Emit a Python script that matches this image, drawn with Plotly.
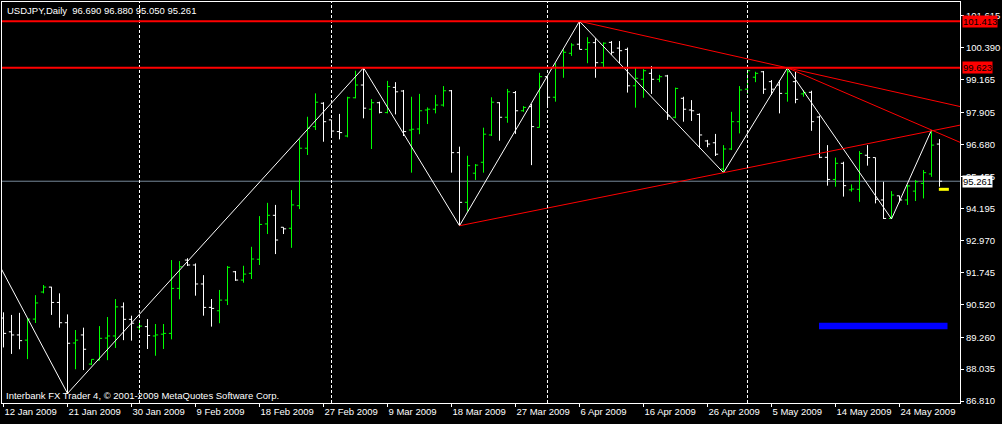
import pandas as pd
import plotly.graph_objects as go

# ---------------- data ----------------
title_text = "USDJPY,Daily  96.690 96.880 95.050 95.261"
footer_text = "Interbank FX Trader 4, \u00a9 2001-2009 MetaQuotes Software Corp."

# trading days (Sunday bars included, Saturday and Good Friday absent)
all_days = pd.date_range("2009-01-12", "2009-05-29", freq="D")
dates = [d for d in all_days if d.weekday() != 5 and d != pd.Timestamp("2009-04-10")]

opens = [90.00, 89.47, 89.35, 89.15, 89.96, 91.00, 91.19, 90.60, 89.82, 89.04,
         89.35, 88.23, 88.38, 89.23, 89.31, 90.43, 89.95, 89.65, 89.67, 89.31,
         89.38, 89.41, 91.14, 92.23, 92.04, 91.31, 90.41, 90.28, 90.69, 91.78,
         91.46, 91.72, 92.26, 93.62, 93.95, 93.49, 93.45, 94.32, 96.53, 97.36,
         98.26, 97.62, 97.17, 97.00, 98.47, 98.96, 98.03, 98.28, 97.90, 98.87,
         98.73, 97.23, 97.27, 98.00, 98.03, 98.19, 98.74, 96.36, 94.45, 95.57,
         95.99, 97.04, 98.28, 97.72, 98.67, 97.97, 98.13, 97.33, 99.28, 98.49,
         99.64, 100.18, 100.53, 100.33, 100.59, 99.82, 100.60, 100.38, 100.33, 98.93,
         99.18, 99.41, 99.18, 99.31, 97.72, 98.45, 98.00, 97.83, 96.81, 96.74,
         95.73, 96.50, 97.55, 98.80, 99.26, 99.47, 99.09, 98.96, 98.64, 99.09,
         98.62, 98.68, 97.73, 96.18, 95.33, 95.95, 94.93, 94.95, 96.26, 96.17,
         94.54, 93.83, 94.70, 94.54, 94.88, 95.18, 95.54, 96.690]
highs = [90.22, 90.12, 90.20, 89.99, 90.88, 91.27, 91.20, 90.95, 90.14, 89.54,
         89.63, 88.41, 89.69, 90.04, 90.73, 90.60, 90.09, 89.81, 89.96, 89.77,
         89.77, 92.23, 92.19, 92.30, 92.10, 91.65, 90.73, 91.08, 92.00, 91.81,
         92.01, 92.74, 93.92, 94.43, 94.35, 93.49, 94.92, 96.88, 97.74, 98.64,
         98.30, 97.62, 97.85, 98.51, 99.51, 99.623, 98.42, 98.32, 99.12, 99.07,
         98.77, 98.51, 98.62, 98.10, 98.58, 98.92, 98.77, 96.59, 96.24, 95.92,
         97.32, 98.49, 98.30, 98.81, 98.73, 98.15, 98.23, 99.43, 99.35, 99.80,
         100.33, 100.57, 101.413, 100.80, 100.76, 100.60, 100.65, 100.65, 100.40, 99.63,
         99.57, 99.69, 99.35, 99.35, 98.86, 98.51, 98.38, 97.87, 96.85, 97.08,
         96.65, 97.93, 98.92, 99.54, 99.47, 99.50, 99.15, 99.15, 99.62, 99.47,
         98.77, 98.74, 97.78, 96.65, 96.17, 96.01, 95.14, 96.42, 96.65, 96.17,
         95.24, 94.88, 94.70, 95.12, 95.31, 95.69, 97.23, 96.880]
lows = [88.87, 88.62, 88.80, 88.42, 89.81, 90.95, 90.12, 89.63, 87.10, 88.03,
        88.00, 88.19, 88.38, 88.38, 88.85, 89.15, 89.13, 89.54, 88.81, 88.55,
        88.81, 89.18, 90.72, 92.00, 90.86, 90.09, 89.67, 89.80, 90.50, 91.43,
        91.36, 91.50, 92.04, 93.23, 92.46, 93.23, 92.70, 94.19, 96.27, 97.23,
        96.78, 97.00, 96.87, 96.95, 98.45, 97.68, 96.50, 97.87, 97.87, 97.83,
        97.00, 95.59, 97.07, 97.46, 97.87, 98.13, 95.59, 93.55, 94.09, 95.31,
        95.59, 97.00, 96.82, 97.51, 97.08, 97.93, 95.88, 97.33, 98.13, 98.32,
        99.24, 100.08, 100.33, 99.80, 99.24, 99.64, 100.12, 99.80, 98.67, 98.09,
        98.47, 98.62, 99.07, 97.62, 97.68, 97.55, 97.58, 96.53, 96.57, 96.23,
        95.59, 96.46, 97.10, 98.62, 99.07, 98.62, 98.58, 97.87, 98.32, 98.26,
        98.51, 97.20, 96.15, 95.09, 95.05, 94.67, 94.86, 94.47, 95.86, 94.41,
        93.81, 93.81, 94.45, 94.35, 94.50, 94.60, 95.43, 95.050]
closes = [89.41, 89.35, 89.13, 89.96, 90.58, 91.19, 90.60, 89.82, 89.03, 89.15,
          88.80, 88.41, 89.22, 89.31, 90.43, 89.95, 89.80, 89.69, 89.33, 89.35,
          89.41, 91.14, 91.97, 92.04, 91.31, 90.41, 90.37, 90.69, 91.95, 91.46,
          91.69, 92.27, 93.60, 93.95, 93.00, 93.43, 94.35, 96.53, 97.30, 98.30,
          97.55, 97.19, 97.13, 98.47, 98.96, 98.07, 98.28, 97.91, 98.90, 98.70,
          97.17, 97.26, 97.97, 98.03, 98.19, 98.74, 96.36, 94.45, 95.86, 95.88,
          97.07, 98.30, 97.72, 98.70, 97.97, 98.10, 97.36, 99.28, 98.49, 99.64,
          100.22, 100.50, 100.33, 100.59, 99.82, 100.57, 100.22, 100.28, 98.93, 99.22,
          99.51, 99.18, 99.28, 97.77, 98.83, 98.03, 97.97, 97.04, 96.69, 96.30,
          96.50, 97.55, 98.77, 99.51, 99.41, 98.80, 98.80, 98.64, 99.47, 98.41,
          98.67, 97.55, 96.18, 95.33, 95.95, 95.09, 94.96, 96.33, 96.17, 94.57,
          93.83, 94.73, 94.54, 95.08, 95.24, 95.59, 96.65, 95.261]

# ZigZag pivots (bar index, price); first pivot lies before the visible window
zz_index = [-4, 8, 45, 57, 72, 90, 98, 111, 116]
zz_price = [94.05, 87.10, 99.623, 93.55, 101.413, 95.59, 99.62, 93.81, 97.23]

# trendlines: pairs of zigzag pivot positions (into zz lists)
trend_pairs = [(4, 6), (6, 8), (3, 5)]

level_prices = [101.413, 99.623]
bid_price = 95.261

y_ticks = [101.615, 100.390, 99.165, 97.905, 96.680, 95.455, 94.195,
           92.970, 91.745, 90.520, 89.260, 88.035, 86.810]

blue_box = dict(x0=101.94, x1=118.0, y0=89.565, y1=89.819)
yellow_mark = dict(x0=116.92, x1=118.17, y=94.95)

# ---------------- figure ----------------
n = len(dates)
xs = list(range(n))
x_range = [-0.1875, 119.5625]
y_range = [86.733, 102.153]

WHITE = "#FFFFFF"
LIME = "#00FF00"
RED = "#FF0000"
FONT = "Liberation Sans"
FS = 9.5

fig = go.Figure()
fig.add_trace(go.Ohlc(
    x=xs, open=opens, high=highs, low=lows, close=closes,
    increasing=dict(line=dict(color=LIME, width=1)),
    decreasing=dict(line=dict(color=WHITE, width=1)),
    tickwidth=0.33, hoverinfo="skip", showlegend=False))

fig.add_trace(go.Scatter(x=zz_index, y=zz_price, mode="lines",
                         line=dict(color=WHITE, width=1), hoverinfo="skip",
                         showlegend=False))

for a, b in trend_pairs:
    xa, ya = zz_index[a], zz_price[a]
    xb, yb = zz_index[b], zz_price[b]
    slope = (yb - ya) / (xb - xa)
    xe = x_range[1]
    fig.add_trace(go.Scatter(x=[xa, xe], y=[ya, ya + slope * (xe - xa)], mode="lines",
                             line=dict(color=RED, width=1), hoverinfo="skip",
                             showlegend=False))

shapes = []
# month separators
for i in range(1, n):
    if dates[i].month != dates[i - 1].month:
        shapes.append(dict(type="line", xref="x", yref="paper", x0=i, x1=i, y0=0, y1=1,
                           line=dict(color=WHITE, width=1, dash="3px,2px")))
# bid line
shapes.append(dict(type="line", xref="paper", yref="y", x0=0, x1=1, y0=bid_price, y1=bid_price,
                   line=dict(color="#778899", width=1), layer="below"))
# horizontal levels
for p in level_prices:
    shapes.append(dict(type="line", xref="paper", yref="y", x0=0, x1=1, y0=p, y1=p,
                       line=dict(color=RED, width=2)))
shapes.append(dict(type="rect", xref="x", yref="y", x0=blue_box["x0"], x1=blue_box["x1"],
                   y0=blue_box["y0"], y1=blue_box["y1"], fillcolor="#0000FF",
                   line=dict(width=0)))
shapes.append(dict(type="line", xref="x", yref="y", x0=yellow_mark["x0"], x1=yellow_mark["x1"],
                   y0=yellow_mark["y"], y1=yellow_mark["y"], line=dict(color="#FFFF00", width=3)))

annotations = [
    dict(xref="paper", yref="paper", x=0, y=1, xanchor="left", yanchor="middle",
         xshift=3, yshift=-8, text=title_text, showarrow=False,
         font=dict(family=FONT, size=FS, color=WHITE)),
    dict(xref="paper", yref="paper", x=0, y=0, xanchor="left", yanchor="middle",
         xshift=2, yshift=8, text=footer_text, showarrow=False,
         font=dict(family=FONT, size=FS, color=WHITE)),
]
for p in level_prices:
    annotations.append(dict(xref="paper", yref="y", x=1, y=p, xanchor="left", yanchor="middle",
                            xshift=2, text=f"{p:.3f}", showarrow=False, bgcolor=RED,
                            borderpad=0, font=dict(family=FONT, size=FS, color="#000000")))
annotations.append(dict(xref="paper", yref="y", x=1, y=bid_price, xanchor="left", yanchor="middle",
                        xshift=2, text=f"{bid_price:.3f}", showarrow=False, bgcolor=WHITE,
                        borderpad=0, font=dict(family=FONT, size=FS, color="#000000")))

x_tick_idx = list(range(0, n, 8))
x_tick_txt = [f"{dates[i].day} {dates[i].strftime('%b %Y')}" for i in x_tick_idx]

fig.update_layout(
    width=1002, height=424,
    margin=dict(l=2, r=42, t=2, b=21, autoexpand=False),
    paper_bgcolor="#000000", plot_bgcolor="#000000",
    showlegend=False,
    shapes=shapes, annotations=annotations,
    xaxis=dict(range=x_range, showgrid=False, zeroline=False,
               showline=True, linecolor=WHITE, linewidth=1, mirror=True,
               ticks="outside", ticklen=3, tickcolor=WHITE,
               tickvals=x_tick_idx, ticktext=x_tick_txt, tickangle=0,
               ticklabelposition="outside right", automargin=False,
               tickfont=dict(family=FONT, size=FS, color=WHITE),
               rangeslider=dict(visible=False), fixedrange=True),
    yaxis=dict(range=y_range, side="right", showgrid=False, zeroline=False,
               showline=True, linecolor=WHITE, linewidth=1, mirror=True,
               ticks="outside", ticklen=3, tickcolor=WHITE, automargin=False,
               tickvals=y_ticks, ticktext=[f"{v:.3f}" for v in y_ticks],
               tickfont=dict(family=FONT, size=FS, color=WHITE), fixedrange=True),
)

fig.write_html("out.html", config={"displayModeBar": False},
               post_script="document.body.style.margin='0';")
